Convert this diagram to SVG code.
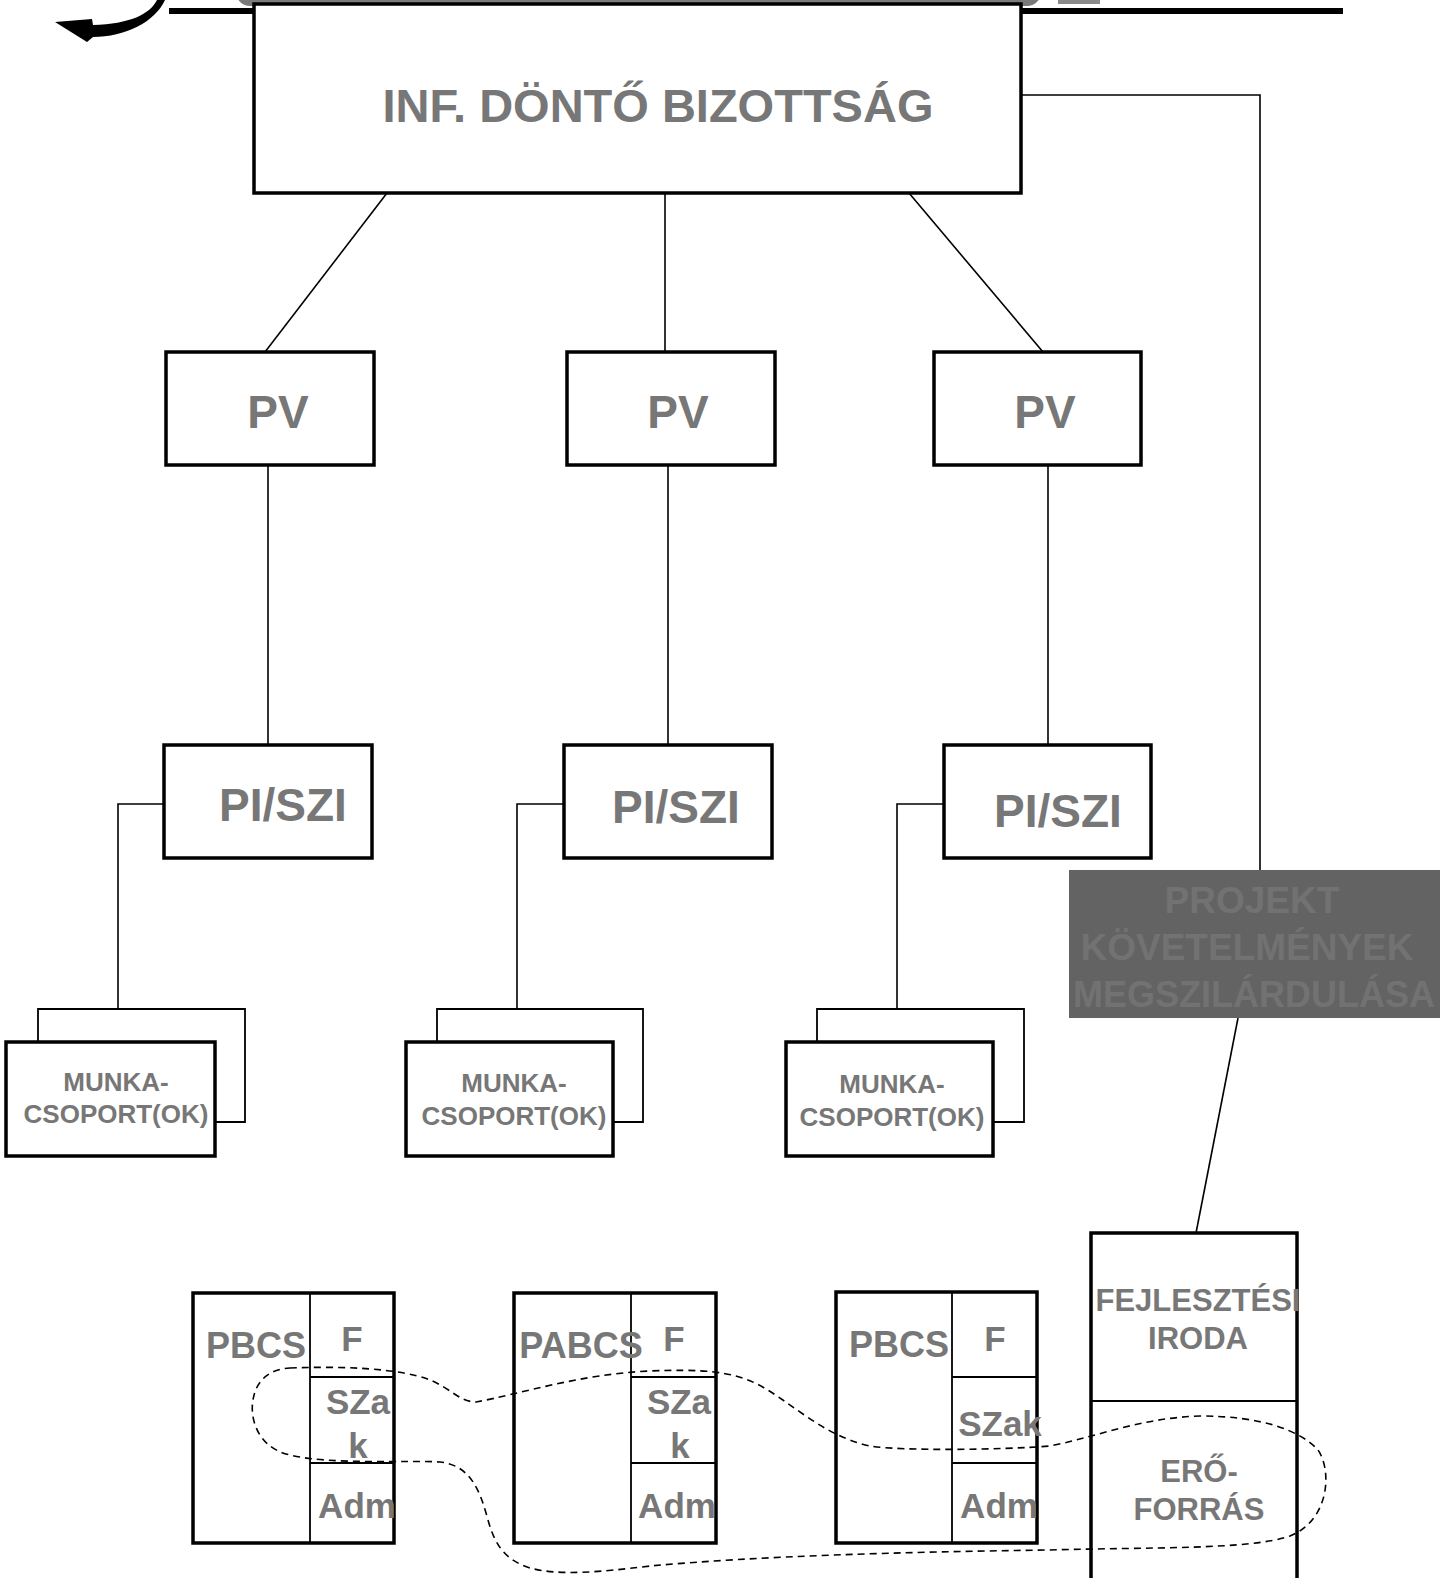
<svg xmlns="http://www.w3.org/2000/svg" width="1440" height="1578" viewBox="0 0 1440 1578">
<style>
.box{fill:#fff;stroke:#000;stroke-width:3.5}
.ln{fill:none;stroke:#000;stroke-width:1.6}
.div{fill:none;stroke:#000;stroke-width:1.8}
.t{font-family:"Liberation Sans",Arial,sans-serif;font-weight:bold;fill:#777;text-anchor:middle}
.dash{fill:none;stroke:#000;stroke-width:1.6;stroke-dasharray:7 5}
</style>
<rect width="1440" height="1578" fill="#fff"/>
<g id="title-remnant">
<rect x="236" y="-22" width="805" height="28" rx="14" fill="#7a7a7a"/>
<rect x="1058" y="-2" width="42" height="6" fill="#8a8a8a"/>
<line x1="169" y1="11" x2="1343" y2="11" stroke="#000" stroke-width="6"/>
<path d="M55,22 L92,19 L93,25 C130,24 150,14 157,0 L165,0 C155,22 125,37 93,37 L87,42 Z" fill="#000"/>
</g>
<g id="connectors">
<line class="ln" x1="387" y1="193" x2="265" y2="352"/>
<line class="ln" x1="665" y1="193" x2="665" y2="352"/>
<line class="ln" x1="909" y1="193" x2="1043" y2="352"/>
<polyline class="ln" points="1021,95 1260,95 1260,870"/>
<line class="ln" x1="268" y1="465" x2="268" y2="745"/>
<line class="ln" x1="668" y1="465" x2="668" y2="745"/>
<line class="ln" x1="1048" y1="465" x2="1048" y2="745"/>
<polyline class="ln" points="165,804 118,804 118,1009"/>
<polyline class="ln" points="564,804 517,804 517,1009"/>
<polyline class="ln" points="944,804 897,804 897,1009"/>
<line class="ln" x1="1238" y1="1018" x2="1196" y2="1233"/>
</g>
<g id="inf-dontobizottsag">
<rect class="box" x="254" y="4" width="767" height="189"/>
<text class="t" x="658" y="122" font-size="47">INF. DÖNTŐ BIZOTTSÁG</text>
</g>
<g id="pv1"><rect class="box" x="166" y="352" width="208" height="113"/><text class="t" x="278" y="428" font-size="46">PV</text></g>
<g id="pv2"><rect class="box" x="567" y="352" width="208" height="113"/><text class="t" x="678" y="428" font-size="46">PV</text></g>
<g id="pv3"><rect class="box" x="934" y="352" width="207" height="113"/><text class="t" x="1045" y="428" font-size="46">PV</text></g>
<g id="pi1"><rect class="box" x="164" y="745" width="208" height="113"/><text class="t" x="283" y="821" font-size="46">PI/SZI</text></g>
<g id="pi2"><rect class="box" x="564" y="745" width="208" height="113"/><text class="t" x="676" y="823" font-size="46">PI/SZI</text></g>
<g id="pi3"><rect class="box" x="944" y="745" width="207" height="113"/><text class="t" x="1058" y="827" font-size="46">PI/SZI</text></g>
<g id="munka1">
<polyline class="div" points="38,1042 38,1009 245,1009 245,1122 215,1122"/>
<rect class="box" x="6" y="1042" width="209" height="114"/>
<text class="t" x="116" y="1091" font-size="26">MUNKA-</text>
<text class="t" x="116" y="1123" font-size="26">CSOPORT(OK)</text>
</g>
<g id="munka2">
<polyline class="div" points="437,1042 437,1009 643,1009 643,1122 613,1122"/>
<rect class="box" x="406" y="1042" width="207" height="114"/>
<text class="t" x="514" y="1092" font-size="26">MUNKA-</text>
<text class="t" x="514" y="1125" font-size="26">CSOPORT(OK)</text>
</g>
<g id="munka3">
<polyline class="div" points="817,1042 817,1009 1024,1009 1024,1122 993,1122"/>
<rect class="box" x="786" y="1042" width="207" height="114"/>
<text class="t" x="892" y="1093" font-size="26">MUNKA-</text>
<text class="t" x="892" y="1126" font-size="26">CSOPORT(OK)</text>
</g>
<g id="projekt-kovetelmenyek">
<rect x="1069" y="870" width="380" height="148" fill="#636363"/>
<text class="t" x="1252" y="913" font-size="37" style="fill:#727272">PROJEKT</text>
<text class="t" x="1247" y="960" font-size="37" style="fill:#727272">KÖVETELMÉNYEK</text>
<text class="t" x="1254" y="1007" font-size="36" style="fill:#727272">MEGSZILÁRDULÁSA</text>
</g>
<g id="pbcs1">
<rect class="box" x="193" y="1293" width="201" height="250"/>
<line class="div" x1="310" y1="1293" x2="310" y2="1543"/>
<line class="div" x1="310" y1="1377" x2="394" y2="1377"/>
<line class="div" x1="310" y1="1463" x2="394" y2="1463"/>
<text class="t" x="256" y="1358" font-size="36">PBCS</text>
<text class="t" x="352" y="1351" font-size="35">F</text>
<text class="t" x="358" y="1414" font-size="35">SZa</text>
<text class="t" x="358" y="1458" font-size="35">k</text>
<text class="t" x="357" y="1518" font-size="35">Adm</text>
</g>
<g id="pbcs2">
<rect class="box" x="514" y="1293" width="202" height="250"/>
<line class="div" x1="631" y1="1293" x2="631" y2="1543"/>
<line class="div" x1="631" y1="1377" x2="716" y2="1377"/>
<line class="div" x1="631" y1="1463" x2="716" y2="1463"/>
<text class="t" x="581" y="1358" font-size="36">PABCS</text>
<text class="t" x="674" y="1351" font-size="35">F</text>
<text class="t" x="679" y="1414" font-size="35">SZa</text>
<text class="t" x="680" y="1458" font-size="35">k</text>
<text class="t" x="677" y="1518" font-size="35">Adm</text>
</g>
<g id="pbcs3">
<rect class="box" x="836" y="1292" width="201" height="251"/>
<line class="div" x1="952" y1="1292" x2="952" y2="1543"/>
<line class="div" x1="952" y1="1377" x2="1037" y2="1377"/>
<line class="div" x1="952" y1="1463" x2="1037" y2="1463"/>
<text class="t" x="899" y="1357" font-size="36">PBCS</text>
<text class="t" x="995" y="1351" font-size="35">F</text>
<text class="t" x="1000" y="1436" font-size="35">SZak</text>
<text class="t" x="999" y="1518" font-size="35">Adm</text>
</g>
<g id="fejlesztesi-iroda">
<rect class="box" x="1091" y="1233" width="206" height="360"/>
<line class="div" x1="1091" y1="1401" x2="1297" y2="1401"/>
<text class="t" x="1198" y="1311" font-size="31">FEJLESZTÉSI</text>
<text class="t" x="1198" y="1349" font-size="31">IRODA</text>
<text class="t" x="1199" y="1482" font-size="31">ERŐ-</text>
<text class="t" x="1199" y="1520" font-size="31">FORRÁS</text>
</g>
<g id="resource-loop">
<path class="dash" d="M290,1368 C340,1366 400,1368 430,1380 C450,1388 460,1402 476,1402 C520,1394 580,1374 650,1371 C700,1369 730,1371 755,1383 C790,1400 820,1435 870,1446 C900,1451 1000,1450 1050,1446 C1100,1436 1140,1418 1200,1416 C1260,1416 1300,1430 1318,1450 C1332,1470 1330,1520 1290,1536 C1250,1550 1150,1547 1050,1550 C900,1552 760,1556 650,1566 C600,1572 560,1576 530,1568 C505,1560 495,1545 488,1520 C480,1490 470,1465 440,1462 C410,1460 330,1465 290,1455 C255,1447 250,1415 253,1400 C256,1380 270,1369 290,1368 Z"/>
</g>
</svg>
